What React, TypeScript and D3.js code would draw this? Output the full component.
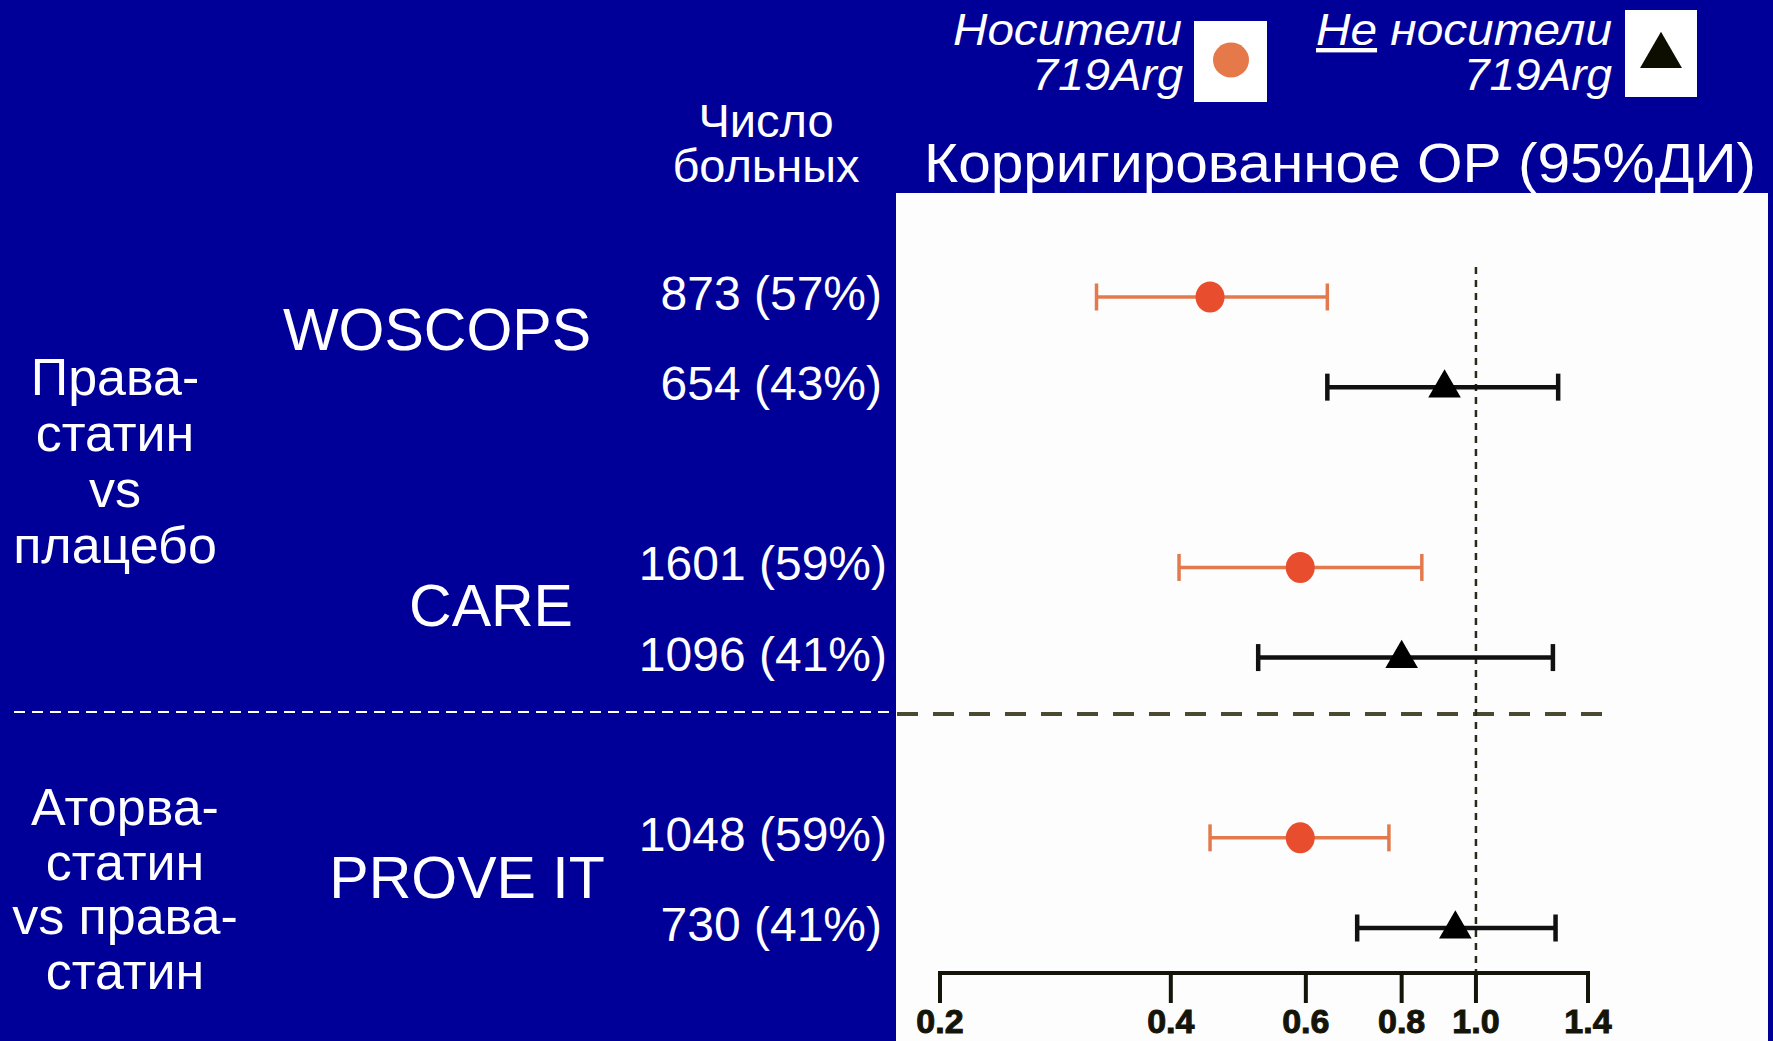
import React from "react";
import * as d3 from "d3";

// ---- data ----
const studyNames = ["WOSCOPS", "CARE", "PROVE IT"];
const patientCounts = ["873 (57%)", "654 (43%)", "1601 (59%)", "1096 (41%)", "1048 (59%)", "730 (41%)"];
const rowGroup = ["carrier", "noncarrier", "carrier", "noncarrier", "carrier", "noncarrier"];
const rowSlot = [0, 1, 3, 4, 6, 7];
const estimate = [0.45, 0.91, 0.59, 0.8, 0.59, 0.94];
const ciLower = [0.32, 0.64, 0.41, 0.52, 0.45, 0.7];
const ciUpper = [0.64, 1.28, 0.85, 1.26, 0.77, 1.27];
const tickValues = [0.2, 0.4, 0.6, 0.8, 1.0, 1.4];
const tickLabels = ["0.2", "0.4", "0.6", "0.8", "1.0", "1.4"];
const comparison1 = ["Права-", "статин", "vs", "плацебо"];
const comparison2 = ["Аторва-", "статин", "vs права-", "статин"];
const titleText = "Корригированное ОР (95%ДИ)";
const countHeader = ["Число", "больных"];

const W = 1773;
const H = 1041;
const BLUE = "#000099";
const FONT = "'Liberation Sans', Arial, Helvetica, sans-serif";
const ORANGE_LINE = "#e27a4e";
const ORANGE_DOT = "#e84e2e";
const DARK = "#141408";

export default function App() {
  const x = d3.scaleLog().domain([0.2, 1.4]).range([940, 1588]);
  const y = d3.scaleLinear().domain([0, 7]).range([297, 928]);
  const axisY = 973;
  const tri = d3.symbol().type(d3.symbolTriangle).size(460);

  const studyPos = [
    { cx: 437, by: 350 },
    { cx: 491, by: 626 },
    { cx: 467, by: 898 },
  ];

  return (
    <svg
      width={W}
      height={H}
      style={{ position: "fixed", left: 0, top: 0, display: "block" }}
      fontFamily={FONT}
    >
      <rect x={0} y={0} width={W} height={H} fill={BLUE} />
      {/* white plot panel */}
      <rect x={896} y={193} width={872} height={H - 193} fill="#fdfdfd" />

      {/* legend */}
      <g fill="#fff" fontStyle="italic" fontSize={44}>
        <text x={1182} y={45} textAnchor="end" textLength={229} lengthAdjust="spacingAndGlyphs">Носители</text>
        <text x={1183} y={90} textAnchor="end" textLength={151} lengthAdjust="spacingAndGlyphs">719Arg</text>
        <text x={1612} y={45} textAnchor="end" textLength={296} lengthAdjust="spacingAndGlyphs">
          <tspan style={{ textDecoration: "underline" }}>Не</tspan> носители
        </text>
        <text x={1612} y={90} textAnchor="end" textLength={148} lengthAdjust="spacingAndGlyphs">719Arg</text>
      </g>
      <rect x={1194} y={21} width={73} height={81} fill="#fff" />
      <ellipse cx={1231} cy={60} rx={18} ry={17.5} fill="#e6794a" />
      <rect x={1625} y={10} width={72} height={87} fill="#fff" />
      <path d={d3.symbol().type(d3.symbolTriangle).size(760)()!} transform="translate(1661,56)" fill="#0d0d00" />

      {/* column header and title */}
      <text fill="#fff" fontSize={47} textAnchor="middle">
        <tspan x={766} y={137}>{countHeader[0]}</tspan>
        <tspan x={766} y={182}>{countHeader[1]}</tspan>
      </text>
      <text x={924} y={182} fill="#fff" fontSize={55} textLength={832} lengthAdjust="spacingAndGlyphs">{titleText}</text>

      {/* comparison labels */}
      <text fill="#fff" fontSize={52} textAnchor="middle">
        {comparison1.map((t, i) => (
          <tspan key={"c1" + i} x={115} y={395 + i * 56}>{t}</tspan>
        ))}
      </text>
      <text fill="#fff" fontSize={52} textAnchor="middle">
        {comparison2.map((t, i) => (
          <tspan key={"c2" + i} x={125} y={825 + i * 54.5}>{t}</tspan>
        ))}
      </text>

      {/* study names */}
      <g fill="#fff" fontSize={59} textAnchor="middle">
        {studyNames.map((s, i) => (
          <text key={s} x={studyPos[i].cx} y={studyPos[i].by}>{s}</text>
        ))}
      </g>

      {/* patient counts */}
      <g fill="#fff" fontSize={48} textAnchor="end">
        {patientCounts.map((t, i) => (
          <text key={t} x={t.length > 9 ? 887 : 882} y={y(rowSlot[i]) + 13}>{t}</text>
        ))}
      </g>

      {/* separators */}
      <line x1={14} x2={896} y1={712} y2={712} stroke="#fff" strokeWidth={2} strokeDasharray="11 7" />
      <line x1={897} x2={1603} y1={714} y2={714} stroke="#4a4a30" strokeWidth={4} strokeDasharray="21 15" />

      {/* reference line at 1.0 */}
      <line x1={x(1)} x2={x(1)} y1={267} y2={axisY} stroke="#2a2a1a" strokeWidth={2.5} strokeDasharray="7 6" />

      {/* CIs and markers */}
      {estimate.map((e, i) => {
        const cy = y(rowSlot[i]);
        const isCarrier = rowGroup[i] === "carrier";
        const col = isCarrier ? ORANGE_LINE : "#111";
        const sw = isCarrier ? 3.5 : 4.5;
        return (
          <g key={"r" + i}>
            <line x1={x(ciLower[i])} x2={x(ciUpper[i])} y1={cy} y2={cy} stroke={col} strokeWidth={sw} />
            <line x1={x(ciLower[i])} x2={x(ciLower[i])} y1={cy - 13.5} y2={cy + 13.5} stroke={col} strokeWidth={sw} />
            <line x1={x(ciUpper[i])} x2={x(ciUpper[i])} y1={cy - 13.5} y2={cy + 13.5} stroke={col} strokeWidth={sw} />
            {isCarrier ? (
              <ellipse cx={x(e)} cy={cy} rx={14.5} ry={15.5} fill={ORANGE_DOT} />
            ) : (
              <path d={tri()!} transform={`translate(${x(e)},${cy + 1})`} fill="#000" />
            )}
          </g>
        );
      })}

      {/* x axis */}
      <g stroke={DARK} strokeWidth={4} fill="none">
        <line x1={x(0.2) - 2} x2={x(1.4) + 2} y1={axisY} y2={axisY} />
        {tickValues.map((t) => (
          <line key={"t" + t} x1={x(t)} x2={x(t)} y1={axisY} y2={axisY + 30} />
        ))}
      </g>
      <g fill={DARK} stroke={DARK} strokeWidth={1} fontSize={34} fontWeight="bold" textAnchor="middle">
        {tickValues.map((t, i) => (
          <text key={"l" + t} x={x(t)} y={1033}>{tickLabels[i]}</text>
        ))}
      </g>
    </svg>
  );
}
